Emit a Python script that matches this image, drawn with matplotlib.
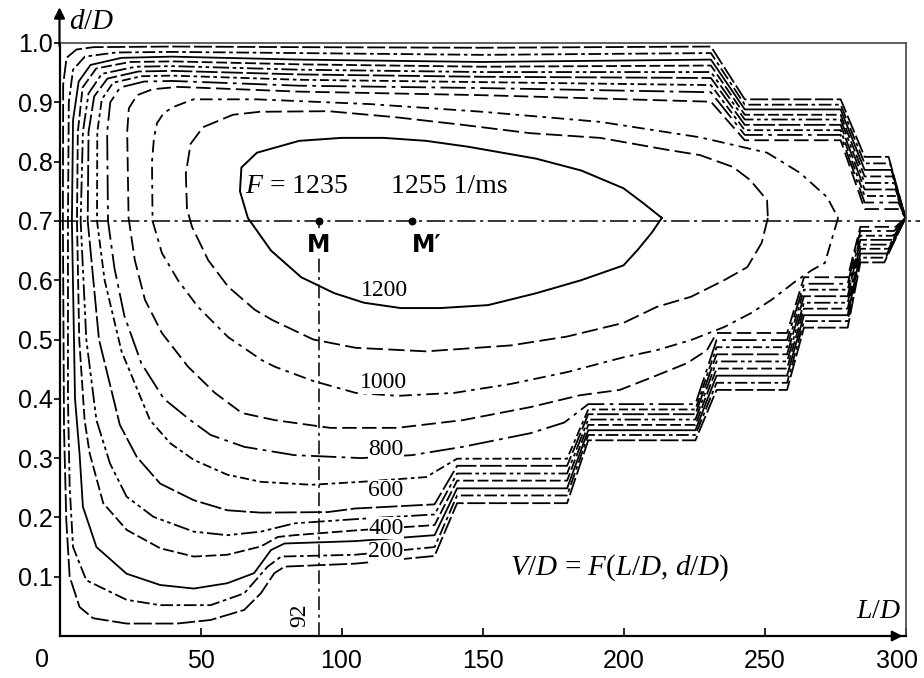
import matplotlib.pyplot as plt
import matplotlib.transforms as mtransforms

plt.rcParams['font.family'] = ['Liberation Serif', 'DejaVu Serif']
plt.rcParams['mathtext.fontset'] = 'custom'
plt.rcParams['mathtext.it'] = 'Liberation Serif:italic'
plt.rcParams['mathtext.rm'] = 'Liberation Serif'

# ---- outer contour family V/D = 100 .. 900 (outer -> inner) ----
levels = [100, 200, 300, 400, 500, 600, 700, 800, 900]

# lower right staircase, plateau heights d/D (None = contour leaves the stair)
p1_y = [0.630, 0.638, 0.645, 0.653, 0.660, 0.668, 0.675, 0.683, 0.690]
p2_y = [0.520, 0.531, 0.541, 0.552, 0.562, 0.573, 0.584, 0.594, 0.605]
p3_y = [0.415, 0.427, 0.439, 0.451, 0.463, 0.475, 0.487, 0.499, 0.511]
p4_y = [0.330, 0.339, 0.347, 0.356, 0.365, 0.374, 0.382, 0.391, None]
p5_y = [0.224, 0.237, 0.249, 0.262, 0.274, 0.287, 0.299, None, None]
p1_right = [292.5, 293.0, 293.5, 294.0, 294.5, 295.0, 295.5, 296.0, 296.5]

# upper part: heights near the top edge and the upper right staircase
t85_y = [0.993, 0.983, 0.972, 0.964, 0.955, 0.947, 0.938, 0.928, 0.918]
t150_y = [0.992, 0.980, 0.968, 0.960, 0.951, 0.943, 0.934, 0.924, 0.912]
t225_y = [0.994, 0.983, 0.972, 0.962, 0.951, 0.941, 0.929, 0.917, 0.901]
t2_y = [0.905, 0.896, 0.888, 0.879, 0.871, 0.862, 0.853, 0.845, 0.836]
t3_y = [0.808, 0.797, 0.786, 0.775, 0.764, 0.753, 0.742, 0.731, 0.720]
t3_right = [294.0, 294.5, 295.0, 295.5, 296.0, 296.5, 297.0, 297.5, 298.0]

# left / bottom branches (L/D, d/D)
left_branch = [
    [(133, 0.135), (104.8, 0.122), (79.8, 0.117), (76.2, 0.106), (71.4, 0.072), (65.5, 0.044),
     (53.6, 0.027), (41.7, 0.021), (23.8, 0.021), (11.9, 0.030), (7.1, 0.049), (3.6, 0.10),
     (2.4, 0.196), (1.6, 0.35), (1.2, 0.70), (1.3, 0.93), (2.5, 0.975), (6, 0.989), (12, 0.993), (40, 0.994)],
    [(133, 0.150), (104.8, 0.137), (78.6, 0.134), (73.8, 0.117), (65.5, 0.072), (53.6, 0.052),
     (35.7, 0.052), (23.8, 0.061), (9.5, 0.094), (4.8, 0.15), (3.6, 0.252), (3.0, 0.40), (3.0, 0.70),
     (3.3, 0.90), (4.8, 0.955), (9, 0.977), (20, 0.984), (40, 0.985)],
    [(133, 0.170), (104.8, 0.160), (79.8, 0.156), (75, 0.145), (69, 0.106), (59.5, 0.089),
     (47.6, 0.080), (35.7, 0.086), (23.8, 0.105), (13.1, 0.15), (8.3, 0.218), (7.1, 0.308),
     (5.5, 0.40), (4.4, 0.70), (4.8, 0.87), (6.8, 0.935), (11, 0.963), (22, 0.975), (40, 0.977)],
    [(133, 0.187), (104.8, 0.178), (83.3, 0.170), (77.4, 0.167), (71.4, 0.151), (59.5, 0.137),
     (47.6, 0.134), (35.7, 0.148), (23.8, 0.179), (15.5, 0.224), (10.7, 0.308), (8.9, 0.364),
     (7.0, 0.50), (6.2, 0.70), (6.5, 0.85), (8.2, 0.925), (13, 0.957), (25, 0.968), (40, 0.969)],
    [(133, 0.205), (104.8, 0.197), (83.3, 0.190), (71.4, 0.176), (59.5, 0.170), (47.6, 0.176),
     (33.3, 0.201), (23.8, 0.235), (17.9, 0.291), (13.1, 0.364), (9.5, 0.50), (7.5, 0.70),
     (8.3, 0.85), (10.3, 0.915), (15, 0.948), (27, 0.960), (40, 0.961)],
    [(133, 0.222), (104.8, 0.215), (95.2, 0.209), (71.4, 0.208), (59.5, 0.212), (47.6, 0.229),
     (35.7, 0.257), (27.4, 0.302), (21.4, 0.356), (14.0, 0.50), (10.0, 0.70), (10.3, 0.85),
     (12.3, 0.91), (17, 0.940), (28, 0.952), (40, 0.953)],
    [(130, 0.268), (107, 0.260), (89.3, 0.255), (71.4, 0.260), (59.5, 0.272), (47.6, 0.297),
     (39.3, 0.325), (32.1, 0.364), (22.0, 0.48), (16.0, 0.60), (13.3, 0.70), (13.4, 0.85),
     (15, 0.905), (19, 0.933), (29, 0.944), (40, 0.945)],
    [(179, 0.360), (167, 0.342), (143, 0.319), (125, 0.305), (107, 0.300), (83.3, 0.305),
     (65.5, 0.319), (53.6, 0.339), (46.4, 0.364), (37, 0.40), (29, 0.46), (23, 0.54), (19.5, 0.62),
     (17.2, 0.70), (16.9, 0.85), (18, 0.90), (21.5, 0.925), (30, 0.935), (40, 0.936)],
    [(229.6, 0.482), (222.5, 0.460), (210.5, 0.437), (198.7, 0.415), (184.6, 0.406), (167, 0.386),
     (143, 0.364), (119.7, 0.351), (96, 0.351), (76.4, 0.364), (64.7, 0.376), (55.1, 0.41),
     (45.6, 0.454), (36.3, 0.511), (30.3, 0.567), (26.7, 0.634), (24.5, 0.705), (24, 0.85),
     (24.6, 0.89), (27.5, 0.912), (33, 0.922), (42, 0.926)],
]

# ---- inner closed contours ----
c1000_x = [276.1, 271.4, 266.8, 260.7, 252.5, 245.4, 235.7, 223.9, 211.8, 200, 180, 160, 140, 120,
           105, 90, 76.4, 71.8, 59.8, 49.1, 42, 36.3, 33, 32.8, 33.5, 34.6, 37, 40.3, 47.5, 70, 110,
           150, 191.7, 227.1, 250.9, 262.6, 272.2, 276.1]
c1000_y = [0.705, 0.629, 0.617, 0.597, 0.567, 0.545, 0.521, 0.499, 0.482, 0.470, 0.445, 0.425, 0.410,
           0.405, 0.410, 0.430, 0.454, 0.465, 0.504, 0.555, 0.600, 0.646, 0.700, 0.800, 0.840, 0.865,
           0.882, 0.892, 0.905, 0.905, 0.897, 0.884, 0.867, 0.841, 0.815, 0.781, 0.740, 0.705]

c1100_x = [251.2, 249, 243.9, 235.7, 223.9, 211.8, 200, 180, 160, 130, 105, 90, 75.4, 69.3, 59.8,
           52.7, 47, 45.2, 44.8, 46.5, 50.9, 61.5, 71, 95.4, 118.9, 142.9, 166.8, 191.7, 215.4,
           227.1, 238.8, 244.9, 250.9, 251.2]
c1100_y = [0.705, 0.663, 0.622, 0.600, 0.572, 0.555, 0.528, 0.505, 0.490, 0.480, 0.486, 0.500,
           0.533, 0.550, 0.589, 0.634, 0.690, 0.720, 0.780, 0.830, 0.858, 0.879, 0.884, 0.885,
           0.875, 0.862, 0.848, 0.840, 0.820, 0.811, 0.791, 0.769, 0.735, 0.705]

c1200_x = [213.6, 210, 205, 200, 185, 169, 152, 135, 121, 108, 97.5, 85.7, 75, 66.8, 64, 64.5, 70,
           85, 100, 115, 130, 145, 169, 185, 200, 207, 213.6]
c1200_y = [0.705, 0.680, 0.651, 0.625, 0.600, 0.578, 0.558, 0.553, 0.553, 0.562, 0.578, 0.605,
           0.650, 0.705, 0.750, 0.790, 0.815, 0.835, 0.840, 0.840, 0.835, 0.825, 0.805, 0.785,
           0.755, 0.730, 0.705]

# contour labels (text, L/D, d/D)
label_txt = ['1200', '1000', '800', '600', '400', '200']
label_x = [115.4, 115.0, 115.8, 115.8, 115.8, 115.8]
label_y = [0.583, 0.427, 0.315, 0.245, 0.182, 0.142]

# optimum points
m_x = [92, 125]
m_y = [0.7, 0.7]
m_names = ['M', "M\u2032"]

xticks = [50, 100, 150, 200, 250, 300]
yticks = [0.1, 0.2, 0.3, 0.4, 0.5, 0.6, 0.7, 0.8, 0.9, 1.0]


def stair_path(k):
    pts = [(300, 0.705), (p1_right[k], p1_y[k]), (284, p1_y[k]), (279.5, p2_y[k]),
           (264, p2_y[k]), (258, p3_y[k]), (233, p3_y[k])]
    if p4_y[k] is not None:
        pts += [(225.5, p4_y[k]), (187.5, p4_y[k])]
    if p5_y[k] is not None:
        pts += [(180, p5_y[k]), (141, p5_y[k])]
    pts += left_branch[k]
    pts += [(85, t85_y[k]), (150, t150_y[k]), (231, t225_y[k]), (243, t2_y[k]), (277, t2_y[k]),
            (285.5, t3_y[k]), (t3_right[k], t3_y[k]), (300, 0.705)]
    return [p[0] for p in pts], [p[1] for p in pts]


styles = [(0, (10, 2)), (0, (7, 2, 2, 2)), '-', (0, (6, 2)), (0, (9, 2, 2, 2, 2, 2)),
          (0, (12, 2)), (0, (5, 2, 2, 2)), (0, (14, 3, 2, 3)), (0, (8, 3))]

fig = plt.figure(figsize=(9.24, 6.78), dpi=100)
ax = fig.add_axes([59.5 / 924, 42 / 678, 846 / 924, 593 / 678])
ax.set_xlim(0, 300)
ax.set_ylim(0, 1.0)

for k in range(len(levels)):
    xs, ys = stair_path(k)
    ax.plot(xs, ys, color='black', lw=1.3, ls=styles[k], clip_on=False)

ax.plot(c1000_x, c1000_y, color='black', lw=1.3, ls=(0, (7, 3, 2, 3)))
ax.plot(c1100_x, c1100_y, color='black', lw=1.3, ls=(0, (9, 3)))
ax.plot(c1200_x, c1200_y, color='black', lw=1.4, ls='-')

# axis lines through the optimum
ax.plot([0, 305], [0.7, 0.7], color='black', lw=1.1, ls=(0, (12, 3, 2, 3)), clip_on=False)
ax.plot([92, 92], [0, 0.7], color='black', lw=1.1, ls=(0, (9, 3, 2, 3)))
ax.text(85.3, 0.035, '92', rotation=90, fontsize=17, ha='center', va='center',
        bbox=dict(facecolor='white', edgecolor='none', pad=0.5))

ax.scatter(m_x, m_y, s=22, color='black', zorder=5)
for x, name in zip(m_x, m_names):
    ax.text(x, 0.66, name, fontsize=17, fontweight='bold', family=['DejaVu Sans'],
            ha='left' if name != 'M' else 'center', va='center',
            bbox=dict(facecolor='white', edgecolor='none', pad=0.3))
ax.text(65.8, 0.758, '$F$ = 1235', fontsize=20, ha='left', va='center')
ax.text(117.5, 0.758, '1255 1/ms', fontsize=20, ha='left', va='center')

for t, x, y in zip(label_txt, label_x, label_y):
    ax.text(x, y, t, fontsize=17, ha='center', va='center',
            bbox=dict(facecolor='white', edgecolor='none', pad=0.4))

ax.text(198.8, 0.116, '$V/D$ = $F$($L/D$, $d/D$)', fontsize=21, ha='center', va='center')

# frame and axes
for s in ['top', 'right']:
    ax.spines[s].set_color('#444444')
    ax.spines[s].set_linewidth(1.2)
for s in ['left', 'bottom']:
    ax.spines[s].set_color('black')
    ax.spines[s].set_linewidth(1.6)

ax.annotate('', xy=(0, 1.065), xytext=(0, 0.99), xycoords='data',
            arrowprops=dict(arrowstyle='-|>', color='black', lw=1.6, mutation_scale=16),
            annotation_clip=False)
ax.annotate('', xy=(300, 0), xytext=(292, 0), xycoords='data',
            arrowprops=dict(arrowstyle='-|>', color='black', lw=1.4, mutation_scale=16),
            annotation_clip=False)
ax.text(3.5, 1.035, '$d/D$', fontsize=21, ha='left', va='center')
ax.text(290.5, 0.042, '$L/D$', fontsize=20, ha='center', va='center')

ax.set_xticks(xticks)
ax.set_xticklabels([str(v) for v in xticks], family=['Liberation Sans'], fontsize=18)
ax.set_yticks(yticks)
ax.set_yticklabels(['%.1f' % v for v in yticks], family=['Liberation Sans'], fontsize=18)
ax.tick_params(axis='x', direction='in', length=6, width=1.2, pad=9)
ax.tick_params(axis='y', direction='out', length=4, width=1.2, pad=1)
# the last label sits against the image edge, nudge it left a little
last = ax.get_xticklabels()[-1]
last.set_transform(last.get_transform() + mtransforms.ScaledTranslation(-6 / 72, 0, fig.dpi_scale_trans))
ax.text(-6.2, -0.02, '0', fontsize=18, family=['Liberation Sans'], ha='center', va='top')

fig.savefig('out.png', dpi=100, facecolor='white')
